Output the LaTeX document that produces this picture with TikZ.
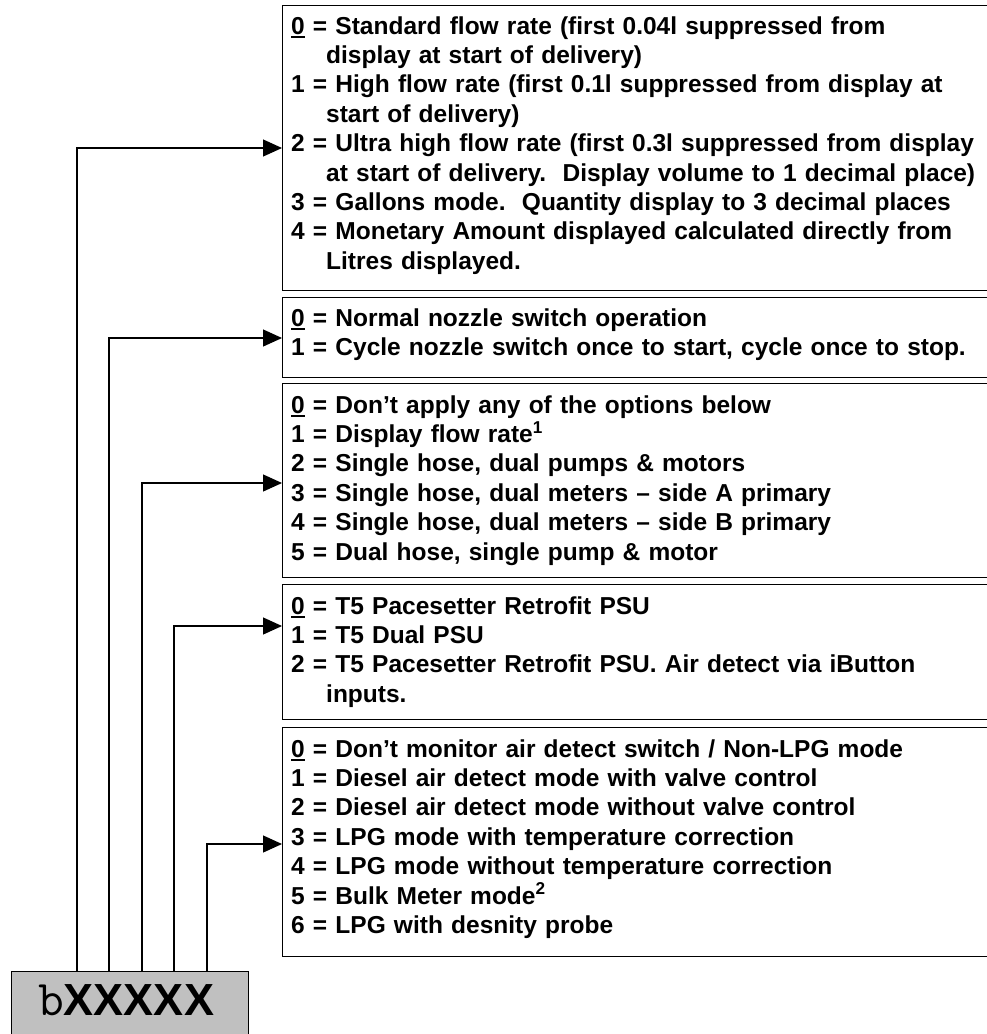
\documentclass[tikz,border=0pt]{standalone}
\usepackage{fontspec}
\setmainfont{Liberation Sans}
\usetikzlibrary{arrows.meta,calc}
\newcommand{\hng}{\hspace*{35pt}}
\newcommand{\uz}{\makebox[0pt][l]{\rule[-3.5pt]{13.6pt}{1.8pt}}0}
\tikzset{
  optbox/.style={draw=black,line width=1.3pt,fill=none,inner sep=0pt,anchor=north west,minimum width=720pt},
  opttext/.style={anchor=base west,inner sep=0pt,text width=800pt,align=left,
    font=\fontsize{24.5}{29.4}\selectfont\bfseries},
  conn/.style={line width=1.2pt,-{Triangle[length=19pt,width=17pt]}},
}
\begin{document}
\begin{tikzpicture}[x=1pt,y=-1pt]
\useasboundingbox (0,0) rectangle (987,1034);
% option boxes
\node[optbox,minimum height=285pt] (b1) at (282,5) {};
\node[optbox,minimum height=80pt] (b2) at (282,297) {};
\node[optbox,minimum height=194pt] (b3) at (282,383) {};
\node[optbox,minimum height=135pt] (b4) at (282,584) {};
\node[optbox,minimum height=229pt] (b5) at (282,727) {};
% texts
\node[opttext] (t1) at (291,34) {\uz{} = Standard flow rate (first 0.04l suppressed from\\
\hng display at start of delivery)\\
1 = High flow rate (first 0.1l suppressed from display at\\
\hng start of delivery)\\
2 = Ultra high flow rate (first 0.3l suppressed from display\\
\hng at start of delivery.\ \ Display volume to 1 decimal place)\\
3 = Gallons mode.\ \ Quantity display to 3 decimal places\\
4 = Monetary Amount displayed calculated directly from\\
\hng Litres displayed.};
\node[opttext] (t2) at (291,326) {\uz{} = Normal nozzle switch operation\\
1 = Cycle nozzle switch once to start, cycle once to stop.};
\node[opttext] (t3) at (291,413) {\uz{} = Don’t apply any of the options below\\
1 = Display flow rate\textsuperscript{1}\\
2 = Single hose, dual pumps \& motors\\
3 = Single hose, dual meters – side A primary\\
4 = Single hose, dual meters – side B primary\\
5 = Dual hose, single pump \& motor};
\node[opttext] (t4) at (291,614) {\uz{} = T5 Pacesetter Retrofit PSU\\
1 = T5 Dual PSU\\
2 = T5 Pacesetter Retrofit PSU. Air detect via iButton\\
\hng inputs.};
\node[opttext] (t5) at (291,757) {\uz{} = Don’t monitor air detect switch / Non-LPG mode\\
1 = Diesel air detect mode with valve control\\
2 = Diesel air detect mode without valve control\\
3 = LPG mode with temperature correction\\
4 = LPG mode without temperature correction\\
5 = Bulk Meter mode\textsuperscript{2}\\
6 = LPG with desnity probe};
% code box
\node[draw=black,line width=1.2pt,fill={rgb,255:red,192;green,192;blue,192},anchor=north west,
  minimum width=237pt,minimum height=90pt,inner sep=0pt] (gb) at (11,971) {};
\node[anchor=base west,inner sep=0pt] (code) at (38,1015)
  {\fontsize{50}{50}\selectfont{\ttfamily b}\fontsize{45}{45}\selectfont\bfseries XXXXX};
% connectors
\coordinate (s1) at (77,971);
\coordinate (s2) at (109,971);
\coordinate (s3) at (142,971);
\coordinate (s4) at (174,971);
\coordinate (s5) at (207,971);
\coordinate (e1) at (282,148);
\coordinate (e2) at (282,338);
\coordinate (e3) at (282,483);
\coordinate (e4) at (282,626);
\coordinate (e5) at (282,844);
\draw[conn] (s1) |- (e1);
\draw[conn] (s2) |- (e2);
\draw[conn] (s3) |- (e3);
\draw[conn] (s4) |- (e4);
\draw[conn] (s5) |- (e5);
\end{tikzpicture}
\end{document}
